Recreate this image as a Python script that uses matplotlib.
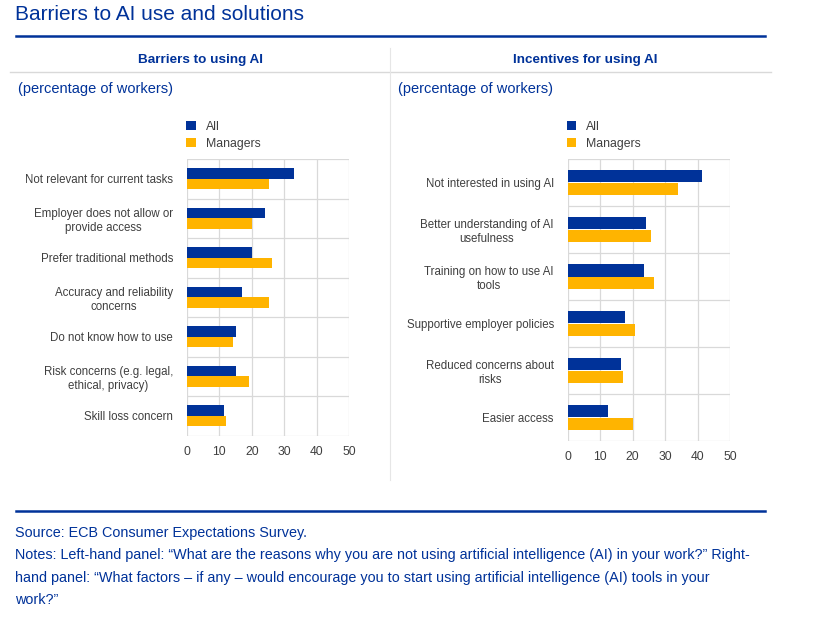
import numpy as np
import matplotlib
matplotlib.use("Agg")
import matplotlib.pyplot as plt
from matplotlib import font_manager
from matplotlib.lines import Line2D

# data (percentage of workers)
barriers = ["Not relevant for current tasks",
            "Employer does not allow or\nprovide access",
            "Prefer traditional methods",
            "Accuracy and reliability\nconcerns",
            "Do not know how to use",
            "Risk concerns (e.g. legal,\nethical, privacy)",
            "Skill loss concern"]
barriers_all = [33.1, 24.1, 20.1, 17.1, 15.1, 15.1, 11.4]
barriers_mgr = [25.2, 20.1, 26.1, 25.2, 14.1, 19.1, 12.1]

incentives = ["Not interested in using AI",
              "Better understanding of AI\nusefulness",
              "Training on how to use AI\ntools",
              "Supportive employer policies",
              "Reduced concerns about\nrisks",
              "Easier access"]
incentives_all = [41.4, 24.2, 23.6, 17.6, 16.3, 12.5]
incentives_mgr = [34.0, 25.6, 26.6, 20.7, 17.0, 20.0]

xticks = [0, 10, 20, 30, 40, 50]
series_names = ["All", "Managers"]

BLUE = "#003299"
YELLOW = "#FFB400"
GRID = "#D9D9D9"
TXT = "#3f3f3f"

names = {f.name for f in font_manager.fontManager.ttflist}
if "Liberation Sans Narrow" in names:
    LAB_FONT, LAB_SIZE = ["Liberation Sans Narrow", "DejaVu Sans"], 9.8
else:
    LAB_FONT, LAB_SIZE = ["Liberation Sans", "DejaVu Sans"], 8.3
plt.rcParams["font.family"] = ["Liberation Sans", "DejaVu Sans"]

W, H = 817, 628
fig = plt.figure(figsize=(W / 100, H / 100), dpi=100)


def fx(px):
    return px / W


def fy(py):
    return 1 - py / H


def hline(y, x0, x1, color, lw):
    fig.add_artist(Line2D([fx(x0), fx(x1)], [fy(y), fy(y)], color=color, lw=lw,
                          transform=fig.transFigure))


# header
fig.text(fx(15), fy(14), "Barriers to AI use and solutions", fontsize=15,
         color=BLUE, va="center", ha="left")
hline(36, 15.5, 765, BLUE, 1.8)
hline(71.5, 10, 771, GRID, 1.0)
fig.add_artist(Line2D([fx(389.5), fx(389.5)], [fy(48), fy(480)], color="#E6E6E6",
                      lw=0.8, transform=fig.transFigure))


def panel(rect, cats, vals_all, vals_mgr, title, title_x, sub_x, legend_x):
    ax = fig.add_axes(rect)
    n = len(cats)
    y = np.arange(n)
    h = 0.26
    ax.barh(y - h / 2, vals_all, height=h, color=BLUE, label=series_names[0], zorder=3)
    ax.barh(y + h / 2, vals_mgr, height=h, color=YELLOW, label=series_names[1], zorder=3)
    ax.set_xlim(0, 50)
    ax.set_ylim(n - 0.5, -0.5)
    ax.set_xticks(xticks)
    ax.set_yticks(y)
    ax.set_yticklabels(cats, fontfamily=LAB_FONT, fontsize=LAB_SIZE, color=TXT,
                       multialignment="center", linespacing=1.2)
    ax.set_yticks(np.arange(n + 1) - 0.5, minor=True)
    ax.tick_params(axis="y", which="both", length=0, pad=10)
    ax.tick_params(axis="x", length=0, pad=7.5, labelsize=LAB_SIZE + 0.4, labelcolor=TXT)
    for lab in ax.get_xticklabels():
        lab.set_fontfamily(LAB_FONT)
    ax.grid(axis="x", color=GRID, lw=0.9, zorder=0)
    ax.grid(axis="y", which="minor", color=GRID, lw=0.9, zorder=0)
    for s in ax.spines.values():
        s.set_visible(False)
    ax.legend(loc="upper left", bbox_to_anchor=(fx(legend_x), fy(120.5)),
              bbox_transform=fig.transFigure, frameon=False, fontsize=8.8,
              handlelength=0.78, handleheight=0.78, handletextpad=0.85,
              labelspacing=0.42, borderpad=0, borderaxespad=0,
              labelcolor=TXT)
    fig.text(fx(title_x), fy(60), title, fontsize=9.7, fontweight="bold",
             color=BLUE, ha="center", va="center")
    fig.text(fx(sub_x), fy(89), "(percentage of workers)", fontsize=10.5,
             color=BLUE, ha="left", va="center")
    return ax


panel([fx(187), fy(435.5), fx(349) - fx(187), fy(159) - fy(435.5)],
      barriers, barriers_all, barriers_mgr, "Barriers to using AI", 201, 18, 186)
panel([fx(567.7), fy(441), fx(730) - fx(567.7), fy(159) - fy(441)],
      incentives, incentives_all, incentives_mgr, "Incentives for using AI", 585, 398, 566.5)

# footer
hline(510.7, 15.5, 765, BLUE, 1.8)
foot = ["Source: ECB Consumer Expectations Survey.",
        "Notes: Left-hand panel: \u201cWhat are the reasons why you are not using artificial intelligence (AI) in your work?\u201d Right-",
        "hand panel: \u201cWhat factors \u2013 if any \u2013 would encourage you to start using artificial intelligence (AI) tools in your",
        "work?\u201d"]
for i, line in enumerate(foot):
    fig.text(fx(15), fy(533 + 22.4 * i), line, fontsize=10.4, color=BLUE,
             ha="left", va="center")

fig.savefig("out.png", dpi=100)
